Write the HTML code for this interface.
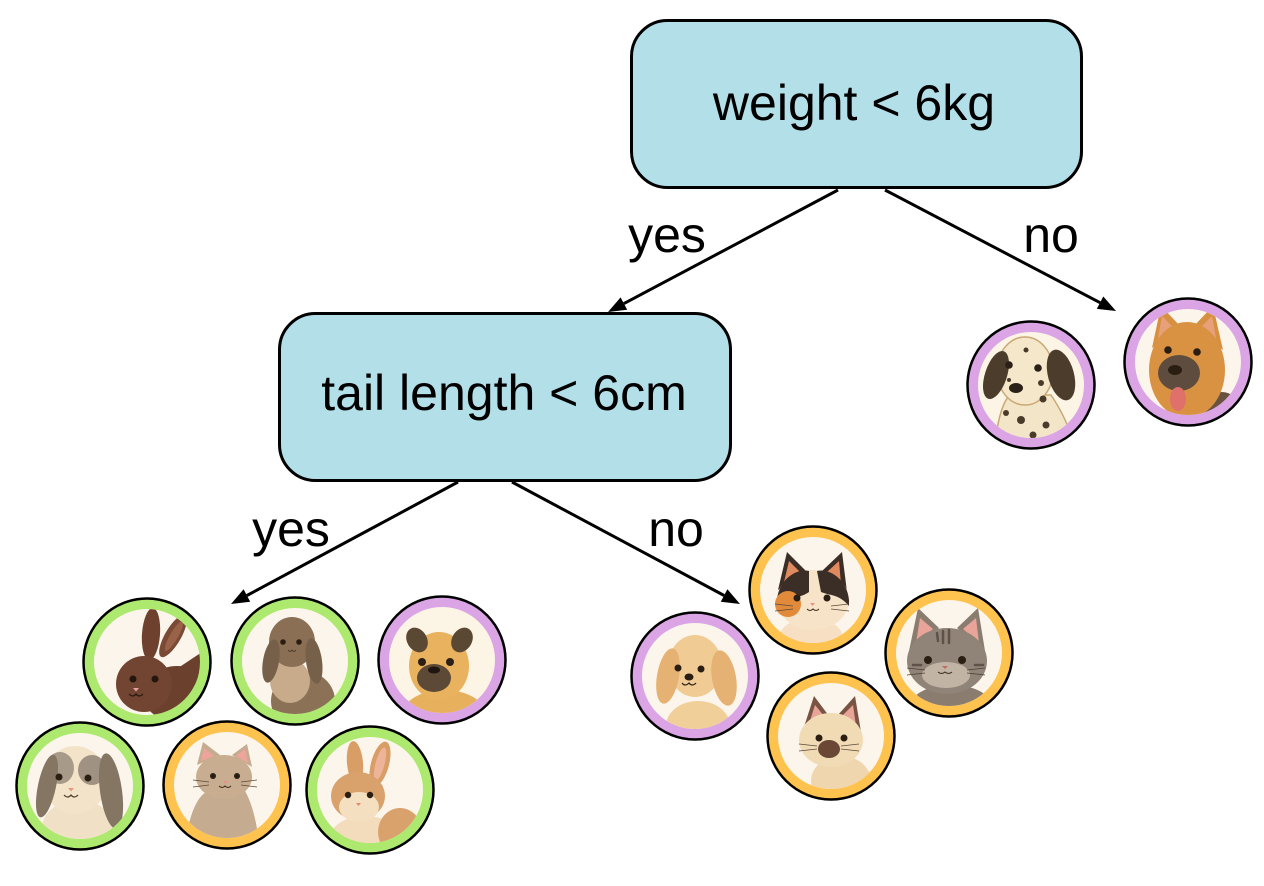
<!DOCTYPE html>
<html><head><meta charset="utf-8"><style>
html,body{margin:0;padding:0;background:#fff;}
svg{display:block;}
text{font-family:"Liberation Sans",Arial,sans-serif;fill:#000;}
</style></head><body>
<svg width="1264" height="886" viewBox="0 0 1264 886" xmlns="http://www.w3.org/2000/svg">
<defs><clipPath id="c" clipPathUnits="userSpaceOnUse"><circle cx="0" cy="0" r="53"/></clipPath></defs>
<rect width="1264" height="886" fill="#fff"/>

<!-- Boxes -->
<rect x="631.5" y="20.5" width="450" height="167" rx="36" fill="#b3dfe9" stroke="#000" stroke-width="3"/>
<text x="854" y="120" font-size="50" text-anchor="middle">weight &lt; 6kg</text>
<rect x="279.5" y="313.5" width="451" height="167" rx="36" fill="#b3dfe9" stroke="#000" stroke-width="3"/>
<text x="504" y="410" font-size="50" text-anchor="middle">tail length &lt; 6cm</text>

<!-- Connectors -->
<g stroke="#000" stroke-width="3" fill="none">
<line x1="838" y1="190" x2="623.9" y2="303.6"/>
<line x1="885" y1="190" x2="1100.1" y2="302.7"/>
<line x1="458" y1="482" x2="246.9" y2="595.5"/>
<line x1="512" y1="482" x2="724.1" y2="595.5"/>
</g>
<g fill="#000">
<polygon points="608,312 627.2,309.8 620.6,297.4"/>
<polygon points="1116,311 1096.8,308.9 1103.3,296.5"/>
<polygon points="231,604 250.2,601.7 243.6,589.3"/>
<polygon points="740,604 720.8,601.7 727.4,589.3"/>
</g>
<text x="667" y="252" font-size="50" text-anchor="middle">yes</text>
<text x="1051" y="252" font-size="50" text-anchor="middle">no</text>
<text x="291" y="546" font-size="50" text-anchor="middle">yes</text>
<text x="676" y="546" font-size="50" text-anchor="middle">no</text>

<!-- 1 brown rabbit -->
<g transform="translate(147,662)">
<circle r="63.5" fill="#aee96f" stroke="#000" stroke-width="2.5"/>
<circle r="53" fill="#fcf5ec"/>
<g clip-path="url(#c)">
<ellipse cx="30" cy="32" rx="34" ry="28" fill="#6b402d"/>
<path d="M25 10 L58 -12 L58 30 Z" fill="#6b402d"/>
<ellipse cx="4" cy="-28" rx="9" ry="26" fill="#6e412e" transform="rotate(4 4 -28)"/>
<ellipse cx="26" cy="-26" rx="8" ry="24" fill="#7a4a35" transform="rotate(30 26 -26)"/>
<ellipse cx="27" cy="-26" rx="4" ry="17" fill="#9a6248" transform="rotate(30 27 -26)"/>
<ellipse cx="-3" cy="22" rx="28" ry="28" fill="#724532"/>
<circle cx="-14" cy="17" r="3.5" fill="#24160f"/>
<circle cx="8" cy="17" r="3.5" fill="#24160f"/>
<path d="M-14 26 l3 3.5 l3 -3.5 z" fill="#e8a0a0"/>
<path d="M-18 32 q4 4 7 0 q3 4 7 0" stroke="#24160f" stroke-width="1.2" fill="none"/>
</g></g>

<!-- 2 lop rabbit -->
<g transform="translate(295,661)">
<circle r="63.5" fill="#aee96f" stroke="#000" stroke-width="2.5"/>
<circle r="53" fill="#fcf5ec"/>
<g clip-path="url(#c)">
<ellipse cx="8" cy="40" rx="32" ry="30" fill="#8b7156"/>
<ellipse cx="-5" cy="20" rx="20" ry="22" fill="#c7ab8b"/>
<ellipse cx="-3" cy="-19" rx="23" ry="25" fill="#8a6f55"/>
<ellipse cx="-24" cy="0" rx="8" ry="22" fill="#76604a" transform="rotate(10 -24 0)"/>
<ellipse cx="19" cy="0" rx="8" ry="23" fill="#76604a" transform="rotate(-8 19 0)"/>
<circle cx="-12" cy="-19" r="2.8" fill="#2a1d12"/>
<circle cx="4" cy="-19" r="2.8" fill="#2a1d12"/>
<path d="M-7 -11 q2 3 4 0 q2 3 4 0" stroke="#4a3a2a" stroke-width="1" fill="none"/>
</g></g>

<!-- 3 pug -->
<g transform="translate(442,660)">
<circle r="63.5" fill="#dba5e5" stroke="#000" stroke-width="2.5"/>
<circle r="53" fill="#fcf5e6"/>
<g clip-path="url(#c)">
<ellipse cx="2" cy="55" rx="42" ry="25" fill="#e6b05c"/>
<ellipse cx="-3" cy="6" rx="30" ry="34" fill="#e8b25f"/>
<ellipse cx="-25" cy="-20" rx="10" ry="13" fill="#5a4833" transform="rotate(-30 -25 -20)"/>
<ellipse cx="20" cy="-20" rx="10" ry="13" fill="#5a4833" transform="rotate(30 20 -20)"/>
<ellipse cx="-8" cy="18" rx="17" ry="14" fill="#5c4a37"/>
<circle cx="-20" cy="2" r="4" fill="#2b2016"/>
<circle cx="8" cy="2" r="4" fill="#2b2016"/>
<ellipse cx="-8" cy="10" rx="6" ry="3.5" fill="#1f1610"/>
</g></g>

<!-- 4 lop bunny white -->
<g transform="translate(80,786)">
<circle r="63.5" fill="#aee96f" stroke="#000" stroke-width="2.5"/>
<circle r="53" fill="#fcf5ec"/>
<g clip-path="url(#c)">
<ellipse cx="-2" cy="42" rx="36" ry="28" fill="#f0e1c6"/>
<ellipse cx="-5" cy="-6" rx="32" ry="34" fill="#f3e4c9"/>
<ellipse cx="-20" cy="-18" rx="14" ry="16" fill="#a89a88"/>
<ellipse cx="12" cy="-16" rx="14" ry="15" fill="#a09282"/>
<ellipse cx="-33" cy="0" rx="9" ry="32" fill="#857563" transform="rotate(12 -33 0)"/>
<ellipse cx="31" cy="5" rx="11" ry="38" fill="#857563" transform="rotate(-8 31 5)"/>
<circle cx="-21" cy="-9" r="3.5" fill="#2a1d12"/>
<circle cx="8" cy="-8" r="3.5" fill="#2a1d12"/>
<path d="M-12 2 l3 3.5 l3 -3.5 z" fill="#e89a80"/>
<path d="M-16 9 q4 4 7 0 q3 4 7 0" stroke="#4a3a2a" stroke-width="1.2" fill="none"/>
</g></g>

<!-- 5 cat beige -->
<g transform="translate(227,785)">
<circle r="63.5" fill="#fec24f" stroke="#000" stroke-width="2.5"/>
<circle r="53" fill="#fcf5ec"/>
<g clip-path="url(#c)">
<path d="M-42 58 C-36 20 -26 8 -18 6 L18 6 C26 20 30 40 32 58 Z" fill="#c5ab8f"/>
<polygon points="-30,-20 -24,-43 -7,-30" fill="#c5ab8f"/>
<polygon points="5,-30 20,-41 25,-18" fill="#c5ab8f"/>
<polygon points="-26,-24 -23,-37 -13,-29" fill="#eea49a"/>
<polygon points="9,-29 18,-36 21,-22" fill="#eea49a"/>
<ellipse cx="-3" cy="-8" rx="28" ry="22" fill="#c8ad90"/>
<circle cx="-14" cy="-9" r="3" fill="#2a1d12"/>
<circle cx="10" cy="-9" r="3" fill="#2a1d12"/>
<path d="M-4 -4 l2.5 3 l2.5 -3 z" fill="#e8908a"/>
<path d="M-8 1 q3 3 6 0 q3 3 6 0" stroke="#3a2a1a" stroke-width="1" fill="none"/>
<g stroke="#5a4a3a" stroke-width="0.8"><line x1="-18" y1="-3" x2="-34" y2="-5"/><line x1="-18" y1="0" x2="-34" y2="2"/><line x1="14" y1="-3" x2="30" y2="-5"/><line x1="14" y1="0" x2="30" y2="2"/></g>
</g></g>

<!-- 6 orange rabbit -->
<g transform="translate(370,790)">
<circle r="63.5" fill="#aee96f" stroke="#000" stroke-width="2.5"/>
<circle r="53" fill="#fcf5ec"/>
<g clip-path="url(#c)">
<ellipse cx="-5" cy="48" rx="35" ry="22" fill="#f3dcbb"/>
<ellipse cx="30" cy="42" rx="22" ry="24" fill="#d9a26c"/>
<ellipse cx="-15" cy="-27" rx="8" ry="22" fill="#d89e66" transform="rotate(-5 -15 -27)"/>
<ellipse cx="10" cy="-26" rx="9" ry="23" fill="#d89e66" transform="rotate(15 10 -26)"/>
<ellipse cx="10" cy="-26" rx="4.5" ry="17" fill="#eeb49a" transform="rotate(15 10 -26)"/>
<ellipse cx="-12" cy="6" rx="27" ry="24" fill="#d9a26c"/>
<ellipse cx="-11" cy="17" rx="20" ry="15" fill="#f4dfc0"/>
<circle cx="-22" cy="5" r="3.2" fill="#2a1d12"/>
<circle cx="0" cy="5" r="3.2" fill="#2a1d12"/>
<path d="M-14 13 l2.5 3 l2.5 -3 z" fill="#e08a70"/>
</g></g>

<!-- 7 dalmatian -->
<g transform="translate(1031,385)">
<circle r="63.5" fill="#dba5e5" stroke="#000" stroke-width="2.5"/>
<circle r="53" fill="#fcf5e6"/>
<g clip-path="url(#c)">
<path d="M-36 58 C-32 25 -25 12 -20 10 L20 10 C30 25 38 40 42 58 Z" fill="#f3e6c8" stroke="#c9a874" stroke-width="1.5"/>
<ellipse cx="-6" cy="-14" rx="28" ry="34" fill="#f4e7ca" stroke="#c9a874" stroke-width="1.5"/>
<ellipse cx="-35" cy="-10" rx="11" ry="25" fill="#4c3c2c" transform="rotate(18 -35 -10)"/>
<ellipse cx="30" cy="-10" rx="13" ry="26" fill="#4c3c2c" transform="rotate(-15 30 -10)"/>
<circle cx="-22" cy="-20" r="3.8" fill="#2b2018"/>
<circle cx="7" cy="-17" r="3.8" fill="#2b2018"/>
<ellipse cx="-15" cy="3" rx="7" ry="5" fill="#2b2018"/>
<g fill="#4a3a2a"><circle cx="-5" cy="-35" r="2.5"/><circle cx="10" cy="-2" r="3"/><circle cx="12" cy="14" r="3.5"/><circle cx="-10" cy="35" r="4"/><circle cx="15" cy="40" r="3.5"/><circle cx="-25" cy="28" r="3"/><circle cx="2" cy="50" r="3.5"/><circle cx="-22" cy="-5" r="2"/></g>
</g></g>

<!-- 8 german shepherd -->
<g transform="translate(1188,362)">
<circle r="63.5" fill="#dba5e5" stroke="#000" stroke-width="2.5"/>
<circle r="53" fill="#fcf5ec"/>
<g clip-path="url(#c)">
<ellipse cx="34" cy="48" rx="18" ry="18" fill="#6a5240"/>
<polygon points="-36,-14 -27,-56 -6,-34" fill="#d6903f"/>
<polygon points="4,-34 25,-56 35,-12" fill="#d6903f"/>
<polygon points="-30,-24 -26,-46 -14,-34" fill="#e8a07a"/>
<polygon points="12,-34 24,-46 28,-24" fill="#e8a07a"/>
<ellipse cx="-1" cy="8" rx="38" ry="48" fill="#d99242"/>
<ellipse cx="-9" cy="11" rx="21" ry="18" fill="#5e4d3f"/>
<ellipse cx="-10" cy="37" rx="8" ry="12" fill="#e0706a"/>
<circle cx="-20" cy="-12" r="3.8" fill="#2a1d12"/>
<circle cx="9" cy="-10" r="3.8" fill="#2a1d12"/>
<ellipse cx="-13" cy="8" rx="7" ry="5" fill="#2a1d12"/>
</g></g>

<!-- 9 cocker dog -->
<g transform="translate(695,676)">
<circle r="63.5" fill="#dba5e5" stroke="#000" stroke-width="2.5"/>
<circle r="53" fill="#fcf5ec"/>
<g clip-path="url(#c)">
<ellipse cx="3" cy="50" rx="32" ry="25" fill="#f0cf98"/>
<ellipse cx="0" cy="-10" rx="27" ry="31" fill="#f0cc94"/>
<ellipse cx="-27" cy="0" rx="11" ry="28" fill="#e6b273" transform="rotate(10 -27 0)"/>
<ellipse cx="29" cy="2" rx="12" ry="28" fill="#e6b273" transform="rotate(-10 29 2)"/>
<circle cx="-17" cy="-8" r="3.5" fill="#2a1d12"/>
<circle cx="6" cy="-7" r="3.5" fill="#2a1d12"/>
<ellipse cx="-6" cy="1" rx="4.5" ry="3.5" fill="#2a1d12"/>
<path d="M-13 7 q3 4 7 0 q3 4 7 0" stroke="#2a1d12" stroke-width="1.2" fill="none"/>
</g></g>

<!-- 10 calico -->
<g transform="translate(813,590)">
<circle r="63.5" fill="#fec24f" stroke="#000" stroke-width="2.5"/>
<circle r="53" fill="#fcf5ec"/>
<g clip-path="url(#c)">
<ellipse cx="-2" cy="48" rx="32" ry="20" fill="#f6dfc2"/>
<polygon points="-35,0 -26,-38 -6,-18" fill="#3a2e26"/>
<polygon points="8,-18 29,-38 34,2" fill="#3a2e26"/>
<polygon points="-29,-8 -24,-29 -13,-18" fill="#e08a60"/>
<polygon points="14,-18 26,-29 28,-6" fill="#e08a60"/>
<ellipse cx="0" cy="10" rx="36" ry="30" fill="#f7e3c8"/>
<path d="M-36 10 C-34 -12 -15 -22 -4 -19 L-4 2 C-12 8 -22 6 -36 20 Z" fill="#3a2e26"/>
<path d="M36 10 C34 -12 15 -22 4 -19 L8 2 C18 6 26 4 36 16 Z" fill="#3a2e26"/>
<ellipse cx="-25" cy="14" rx="13" ry="13" fill="#e08a3a"/>
<circle cx="-16" cy="8" r="3.5" fill="#2a1d12"/>
<circle cx="14" cy="8" r="3.5" fill="#2a1d12"/>
<path d="M-3 13 l2.5 3 l2.5 -3 z" fill="#e8908a"/>
<path d="M-6 19 q3 3 6 0 q3 3 6 0" stroke="#3a2a1a" stroke-width="1" fill="none"/>
<g stroke="#5a4a3a" stroke-width="0.8"><line x1="-20" y1="16" x2="-38" y2="14"/><line x1="-20" y1="19" x2="-38" y2="21"/><line x1="18" y1="16" x2="36" y2="14"/><line x1="18" y1="19" x2="36" y2="21"/></g>
</g></g>

<!-- 11 tabby -->
<g transform="translate(949,653)">
<circle r="63.5" fill="#fec24f" stroke="#000" stroke-width="2.5"/>
<circle r="53" fill="#fcf5ec"/>
<g clip-path="url(#c)">
<ellipse cx="2" cy="52" rx="40" ry="20" fill="#8a7d70"/>
<polygon points="-40,-2 -31,-45 -10,-25" fill="#8a7d70"/>
<polygon points="8,-25 29,-45 36,-2" fill="#8a7d70"/>
<polygon points="-33,-10 -29,-35 -16,-24" fill="#e9a49a"/>
<polygon points="14,-24 27,-35 30,-10" fill="#e9a49a"/>
<ellipse cx="-2" cy="8" rx="40" ry="33" fill="#908377"/>
<ellipse cx="-3" cy="22" rx="24" ry="13" fill="#c2b4a4"/>
<g stroke="#5e5248" stroke-width="2.5" stroke-linecap="round"><line x1="-6" y1="-22" x2="-6" y2="-10"/><line x1="0" y1="-23" x2="0" y2="-10"/><line x1="-12" y1="-20" x2="-11" y2="-12"/><line x1="-36" y1="12" x2="-28" y2="12"/><line x1="26" y1="12" x2="34" y2="12"/></g>
<circle cx="-21" cy="7" r="4" fill="#2a1d12"/>
<circle cx="13" cy="7" r="4" fill="#2a1d12"/>
<path d="M-7 13 l3 3 l3 -3 z" fill="#c06a60"/>
<path d="M-11 19 q3.5 3 7 0 q3.5 3 7 0" stroke="#3a2a1a" stroke-width="1" fill="none"/>
<g stroke="#4a3e34" stroke-width="0.8"><line x1="-24" y1="17" x2="-42" y2="15"/><line x1="-24" y1="20" x2="-42" y2="22"/><line x1="18" y1="17" x2="36" y2="15"/><line x1="18" y1="20" x2="36" y2="22"/></g>
</g></g>

<!-- 12 siamese -->
<g transform="translate(831,736)">
<circle r="63.5" fill="#fec24f" stroke="#000" stroke-width="2.5"/>
<circle r="53" fill="#fcf5ec"/>
<g clip-path="url(#c)">
<ellipse cx="10" cy="45" rx="30" ry="25" fill="#efd6ae"/>
<polygon points="-28,-6 -17,-40 -2,-20" fill="#7a5442"/>
<polygon points="6,-20 24,-40 30,-4" fill="#7a5442"/>
<polygon points="-22,-12 -16,-31 -7,-20" fill="#e9a49a"/>
<polygon points="11,-20 22,-31 25,-10" fill="#e9a49a"/>
<ellipse cx="0" cy="4" rx="32" ry="27" fill="#f1dbb5"/>
<ellipse cx="-2" cy="13" rx="11" ry="9" fill="#6b4836"/>
<circle cx="-12" cy="2" r="3.5" fill="#2a1d12"/>
<circle cx="13" cy="2" r="3.5" fill="#2a1d12"/>
<g stroke="#5a4a3a" stroke-width="0.8"><line x1="-14" y1="10" x2="-32" y2="8"/><line x1="-14" y1="13" x2="-32" y2="15"/><line x1="10" y1="10" x2="28" y2="8"/><line x1="10" y1="13" x2="28" y2="15"/></g>
</g></g>
</svg>
</body></html>
